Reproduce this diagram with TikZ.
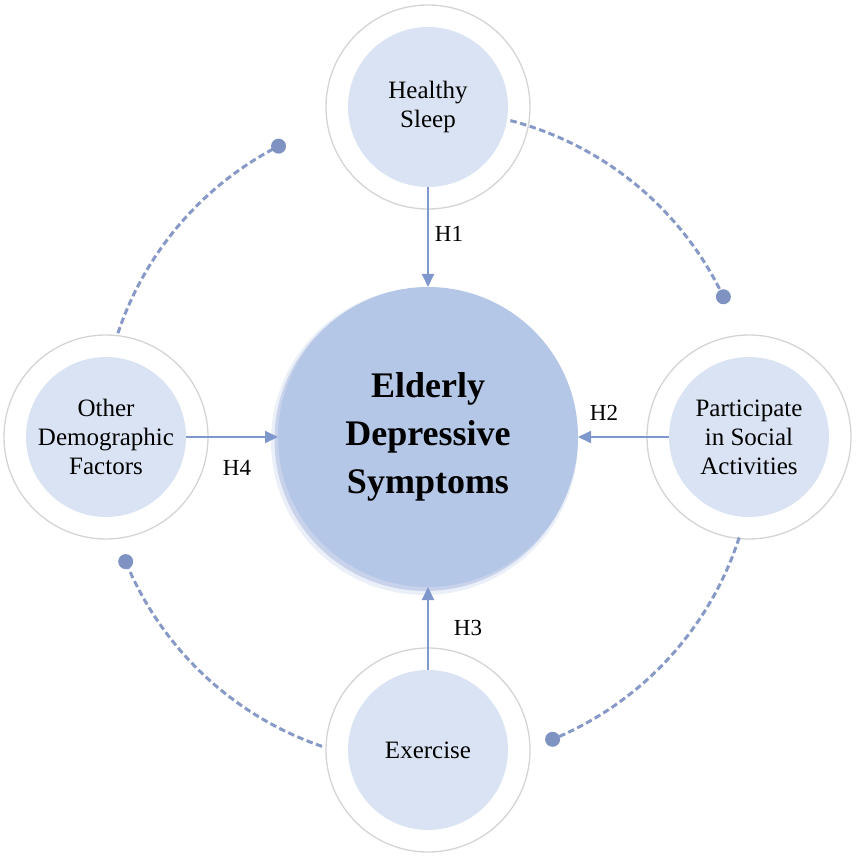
\documentclass[tikz,border=0pt]{standalone}
\usepackage{fontspec}
\setmainfont{Liberation Serif}
\usetikzlibrary{arrows.meta,calc}
\definecolor{mainblue}{HTML}{B4C7E7}
\definecolor{shadowblue}{HTML}{9DB1DC}
\definecolor{satblue}{HTML}{DAE3F3}
\definecolor{ringgray}{HTML}{D4D4D4}
\definecolor{arrowblue}{HTML}{7F98CC}
\definecolor{dashblue}{HTML}{8799C6}
\definecolor{dotblue}{HTML}{7F93C3}
\tikzset{
  ring/.style={circle, draw=ringgray, line width=1.3pt, minimum size=204pt, inner sep=0pt, outer sep=0pt},
  sat/.style={circle, fill=satblue, minimum size=160pt, inner sep=0pt, outer sep=0pt, align=center, font=\fontsize{25}{29}\selectfont},
  mainc/.style={circle, fill=mainblue, minimum size=300pt, inner sep=0pt, outer sep=0pt, align=center, font=\fontsize{36}{48}\selectfont\bfseries},
  arr/.style={draw=arrowblue, line width=2pt, -{Triangle[length=13pt,width=12pt]}, arrowblue},
  hlabel/.style={font=\fontsize{23}{27}\selectfont, inner sep=0pt},
  dashedarc/.style={draw=dashblue, line width=3pt, dash pattern=on 6.5pt off 3.5pt},
  enddot/.style={circle, fill=dotblue, minimum size=15pt, inner sep=0pt}
}
\begin{document}
\begin{tikzpicture}[x=1pt,y=-1pt]
\useasboundingbox (0,0) rectangle (856,858);
\coordinate (C) at (428,437);
% outer rings
\node[ring] (sleepR) at (428,107) {};
\node[ring] (socialR) at (749,437) {};
\node[ring] (exerR) at (428,750) {};
\node[ring] (demoR) at (106,437) {};
% dashed arcs
\coordinate (s1) at ($(C)+(-75.4:327)$);
\coordinate (s2) at ($(C)+(17.9:327)$);
\coordinate (s3) at ($(C)+(108.9:327)$);
\coordinate (s4) at ($(C)+(-161.5:327)$);
\draw[dashedarc] (s1) arc[start angle=-75.4, end angle=-25.4, radius=327] coordinate (e1);
\draw[dashedarc] (s2) arc[start angle=17.9, end angle=67.6, radius=327] coordinate (e2);
\draw[dashedarc] (s3) arc[start angle=108.9, end angle=157.6, radius=327] coordinate (e3);
\draw[dashedarc] (s4) arc[start angle=-161.5, end angle=-117.2, radius=327] coordinate (e4);
\node[enddot] (d1) at (e1) {};
\node[enddot] (d2) at (e2) {};
\node[enddot] (d3) at (e3) {};
\node[enddot] (d4) at (e4) {};
% satellites
\node[sat] (sleep) at (428,107) {Healthy\\Sleep};
\node[sat] (social) at (749,437) {Participate\\in Social\\Activities};
\node[sat] (exer) at (428,750) {Exercise};
\node[sat] (demo) at (106,437) {Other\\Demographic\\Factors};
% main circle with soft shadow
\fill[shadowblue, opacity=0.2] (424.5,441.5) circle[radius=153.5];
\fill[shadowblue, opacity=0.45] (425.5,440) circle[radius=151];
\node[mainc] (M) at (428,437) {Elderly\\Depressive\\Symptoms};
% arrows
\draw[arr] (sleep.south) -- (M.north);
\draw[arr] (social.west) -- (M.east);
\draw[arr] (exer.north) -- (M.south);
\draw[arr] (demo.east) -- (M.west);
% labels
\node[hlabel] (h1) at (449,234) {H1};
\node[hlabel] (h2) at (604,413) {H2};
\node[hlabel] (h3) at (468,628) {H3};
\node[hlabel] (h4) at (237,468) {H4};
\end{tikzpicture}
\end{document}
